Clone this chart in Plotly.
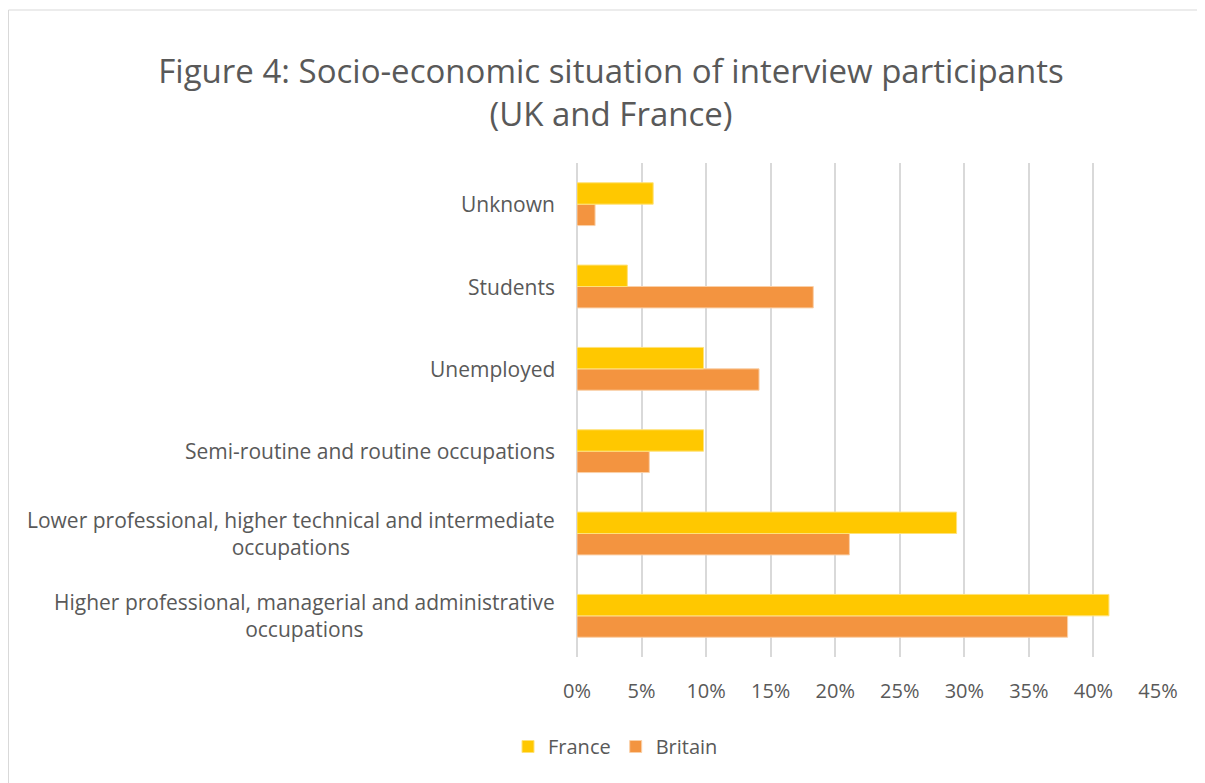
import plotly.graph_objects as go

categories = [
    "Higher professional, managerial and administrative<br>occupations",
    "Lower professional, higher technical and intermediate<br>occupations",
    "Semi-routine and routine occupations",
    "Unemployed",
    "Students",
    "Unknown",
]
france = [41.2, 29.4, 9.8, 9.8, 3.9, 5.9]
britain = [38.0, 21.1, 5.6, 14.1, 18.3, 1.4]
x_ticks = [0, 5, 10, 15, 20, 25, 30, 35, 40, 45]

OFF = 8  # browser body margin
W, H = 1205 - OFF, 783 - OFF
PL, PR, PT, PB = 577, 1158, 163, 657  # plot area in page pixels
L, T = PL - OFF, PT - OFF
R, B = W - (PR - OFF), H - (PB - OFF)
pw, ph = W - L - R, H - T - B

FONT = "Open Sans"
GRAY = "#595959"


def px2paper_x(px):
    return (px - OFF - L) / pw


def px2paper_y(py):
    return (H - B - (py - OFF)) / ph


fig = go.Figure()
fig.add_trace(go.Bar(y=categories, x=britain, orientation="h", name="Britain",
                     marker=dict(color="#F39440", line=dict(color="#FAD0A8", width=1)),
                     legendrank=2))
fig.add_trace(go.Bar(y=categories, x=france, orientation="h", name="France",
                     marker=dict(color="#FFC800", line=dict(color="#FFE27A", width=1)),
                     legendrank=1))

for c in categories:
    fig.add_annotation(x=0, xref="paper", y=c, yref="y", text=c, showarrow=False,
                       xanchor="right", align="center", xshift=-20,
                       font=dict(family=FONT, size=21, color=GRAY))

fig.add_shape(type="rect", xref="paper", yref="paper",
              x0=px2paper_x(OFF + 0.5), x1=px2paper_x(1260), y0=px2paper_y(850), y1=px2paper_y(10),
              line=dict(color="#d9d9d9", width=1), fillcolor="rgba(0,0,0,0)", layer="below")

fig.update_layout(
    width=W, height=H,
    margin=dict(l=L, r=R, t=T, b=B),
    paper_bgcolor="white", plot_bgcolor="white",
    barmode="group", bargap=0.48, bargroupgap=0,
    title=dict(text="Figure 4: Socio-economic situation of interview participants<br>(UK and France)",
               x=(611 - OFF) / W, xanchor="center", xref="container",
               y=1 - (83 - OFF) / H, yanchor="middle", yref="container",
               font=dict(family=FONT, size=33, color=GRAY)),
    font=dict(family=FONT, color=GRAY),
    showlegend=True,
    legend=dict(orientation="h", x=px2paper_x(508), xanchor="left",
                y=px2paper_y(727), yanchor="top", font=dict(family=FONT, size=20, color=GRAY),
                itemwidth=30, tracegroupgap=0),
    xaxis=dict(range=[0, 45], tickvals=x_ticks, ticktext=[f"{v}%" for v in x_ticks],
               showgrid=True, gridcolor="#d9d9d9", gridwidth=2,
               zeroline=True, zerolinecolor="#d9d9d9", zerolinewidth=2,
               ticks="outside", ticklen=16, tickcolor="rgba(0,0,0,0)",
               tickfont=dict(family=FONT, size=20, color=GRAY), showline=False, fixedrange=True),
    yaxis=dict(showticklabels=False, showgrid=False, zeroline=False, showline=False,
               categoryorder="array", categoryarray=categories),
)

fig.write_html("out.html")
